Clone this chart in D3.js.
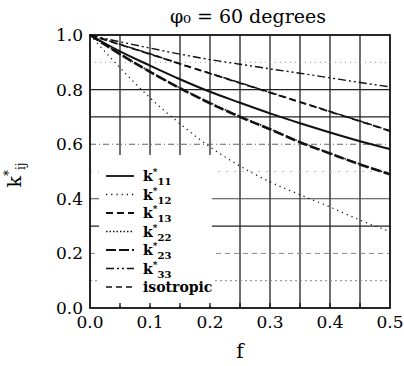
<!DOCTYPE html>
<html><head><meta charset="utf-8">
<script src="https://cdn.jsdelivr.net/npm/d3@7/dist/d3.min.js"></script>
<style>body{margin:0;background:#fff}svg{display:block}</style>
</head><body><svg id="c" width="404" height="366" font-family="'DejaVu Serif', 'Liberation Serif', serif"></svg>
<script>
const fVals = [0, 0.05, 0.1, 0.15, 0.2, 0.25, 0.3, 0.35, 0.4, 0.45, 0.5];
const k11 = [1.0, 0.94, 0.888, 0.838, 0.792, 0.752, 0.713, 0.677, 0.643, 0.611, 0.582];
const k12 = [1.0, 0.88, 0.77, 0.675, 0.59, 0.52, 0.462, 0.415, 0.37, 0.322, 0.28];
const k13 = [1.0, 0.965, 0.93, 0.894, 0.859, 0.824, 0.789, 0.754, 0.719, 0.684, 0.648];
const k22 = [1.0, 0.93, 0.866, 0.806, 0.752, 0.702, 0.656, 0.609, 0.567, 0.527, 0.49];
const k23 = [1.0, 0.93, 0.865, 0.805, 0.75, 0.70, 0.655, 0.607, 0.566, 0.526, 0.49];
const k33 = [1.0, 0.975, 0.952, 0.93, 0.91, 0.893, 0.876, 0.86, 0.843, 0.826, 0.81];
const kIso = [1.0, 0.966, 0.931, 0.895, 0.86, 0.825, 0.79, 0.755, 0.72, 0.685, 0.649];
const seriesNames = ["11", "12", "13", "22", "23", "33", "isotropic"];
const xTicks = [0.0, 0.1, 0.2, 0.3, 0.4, 0.5];
const yTicks = [0.0, 0.2, 0.4, 0.6, 0.8, 1.0];
const title = "φ₀ = 60 degrees";

const series = [
  {name: "11", v: k11, dash: null, w: 2},
  {name: "12", v: k12, dash: "1.2,4", w: 1.3},
  {name: "13", v: k13, dash: "7,4", w: 1.8},
  {name: "22", v: k22, dash: "1.5,2", w: 1.5},
  {name: "23", v: k23, dash: "10,3", w: 2.6},
  {name: "33", v: k33, dash: "8,3,2,3,2,3", w: 1.4},
  {name: "isotropic", v: kIso, dash: "6,4", w: 1.5}
];

const svg = d3.select("#c");
const x = d3.scaleLinear().domain([0, 0.5]).range([90, 390]);
const y = d3.scaleLinear().domain([0, 1]).range([308, 35]);

// grid
const g = svg.append("g");
d3.range(1, 10).forEach(i => {
  const fx = i * 0.05;
  g.append("line").attr("x1", x(fx)).attr("x2", x(fx)).attr("y1", y(1)).attr("y2", y(0))
    .attr("stroke", "#222").attr("stroke-width", 1.3);
});
const hGrid = [
  {v: 0.9, dash: "1,4", c: "#999", w: 1},
  {v: 0.8, dash: null, c: "#222", w: 1.3},
  {v: 0.7, dash: null, c: "#222", w: 1.3},
  {v: 0.6, dash: "6,3,1,3", c: "#666", w: 1.1},
  {v: 0.5, dash: "2,6", c: "#bbb", w: 1},
  {v: 0.4, dash: null, c: "#444", w: 1.1},
  {v: 0.3, dash: null, c: "#222", w: 1.3},
  {v: 0.2, dash: "5,4", c: "#888", w: 1},
  {v: 0.1, dash: "2,3", c: "#888", w: 1}
];
hGrid.forEach(h => {
  g.append("line").attr("x1", x(0)).attr("x2", x(0.5)).attr("y1", y(h.v)).attr("y2", y(h.v))
    .attr("stroke", h.c).attr("stroke-width", h.w).attr("stroke-dasharray", h.dash);
});

// curves
const line = d3.line().x((d, i) => x(fVals[i])).y(d => y(d)).curve(d3.curveMonotoneX);
series.forEach(s => {
  svg.append("path").attr("d", line(s.v)).attr("fill", "none").attr("stroke", "#111")
    .attr("stroke-width", s.w).attr("stroke-dasharray", s.dash);
});

// legend background
svg.append("rect").attr("x", 99).attr("y", 155).attr("width", 113).attr("height", 151).attr("fill", "#fff");

// frame
svg.append("rect").attr("x", x(0)).attr("y", y(1)).attr("width", x(0.5) - x(0)).attr("height", y(0) - y(1))
  .attr("fill", "none").attr("stroke", "#111").attr("stroke-width", 1.8);

// bottom small ticks
d3.range(1, 10).forEach(i => {
  svg.append("line").attr("x1", x(i * 0.05)).attr("x2", x(i * 0.05)).attr("y1", y(0)).attr("y2", y(0) - 5)
    .attr("stroke", "#111").attr("stroke-width", 1.3);
});

// legend
const legY0 = 176, legDy = 18.5;
series.forEach((s, i) => {
  const yy = legY0 + i * legDy;
  svg.append("line").attr("x1", 106).attr("x2", 134).attr("y1", yy).attr("y2", yy)
    .attr("stroke", "#111").attr("stroke-width", Math.min(s.w, 1.8)).attr("stroke-dasharray", s.dash);
  const t = svg.append("text").attr("x", 143).attr("y", yy + 5).attr("font-size", 14).attr("font-weight", "bold");
  if (s.name === "isotropic") {
    t.text("isotropic");
  } else {
    t.text("k");
    t.append("tspan").attr("font-size", 9).attr("dy", -6).text("*");
    t.append("tspan").attr("font-size", 10).attr("dy", 10).text(s.name);
  }
});

// tick labels
xTicks.forEach(v => {
  svg.append("text").attr("x", x(v)).attr("y", 328).attr("text-anchor", "middle")
    .attr("font-size", 17).text(d3.format(".1f")(v));
});
yTicks.forEach(v => {
  svg.append("text").attr("x", 83).attr("y", y(v) + 6).attr("text-anchor", "end")
    .attr("font-size", 17).text(d3.format(".1f")(v));
});

// title
svg.append("text").attr("x", 248).attr("y", 23).attr("text-anchor", "middle").attr("font-size", 19).text(title);
// x label
svg.append("text").attr("x", 240).attr("y", 358).attr("text-anchor", "middle").attr("font-size", 20).text("f");
// y label
const yl = svg.append("text").attr("transform", "translate(21,175) rotate(-90)").attr("text-anchor", "middle").attr("font-size", 19);
yl.text("k");
yl.append("tspan").attr("font-size", 12).attr("dy", -8).text("*");
yl.append("tspan").attr("font-size", 12).attr("dy", 12).text("ij");
</script></body></html>
